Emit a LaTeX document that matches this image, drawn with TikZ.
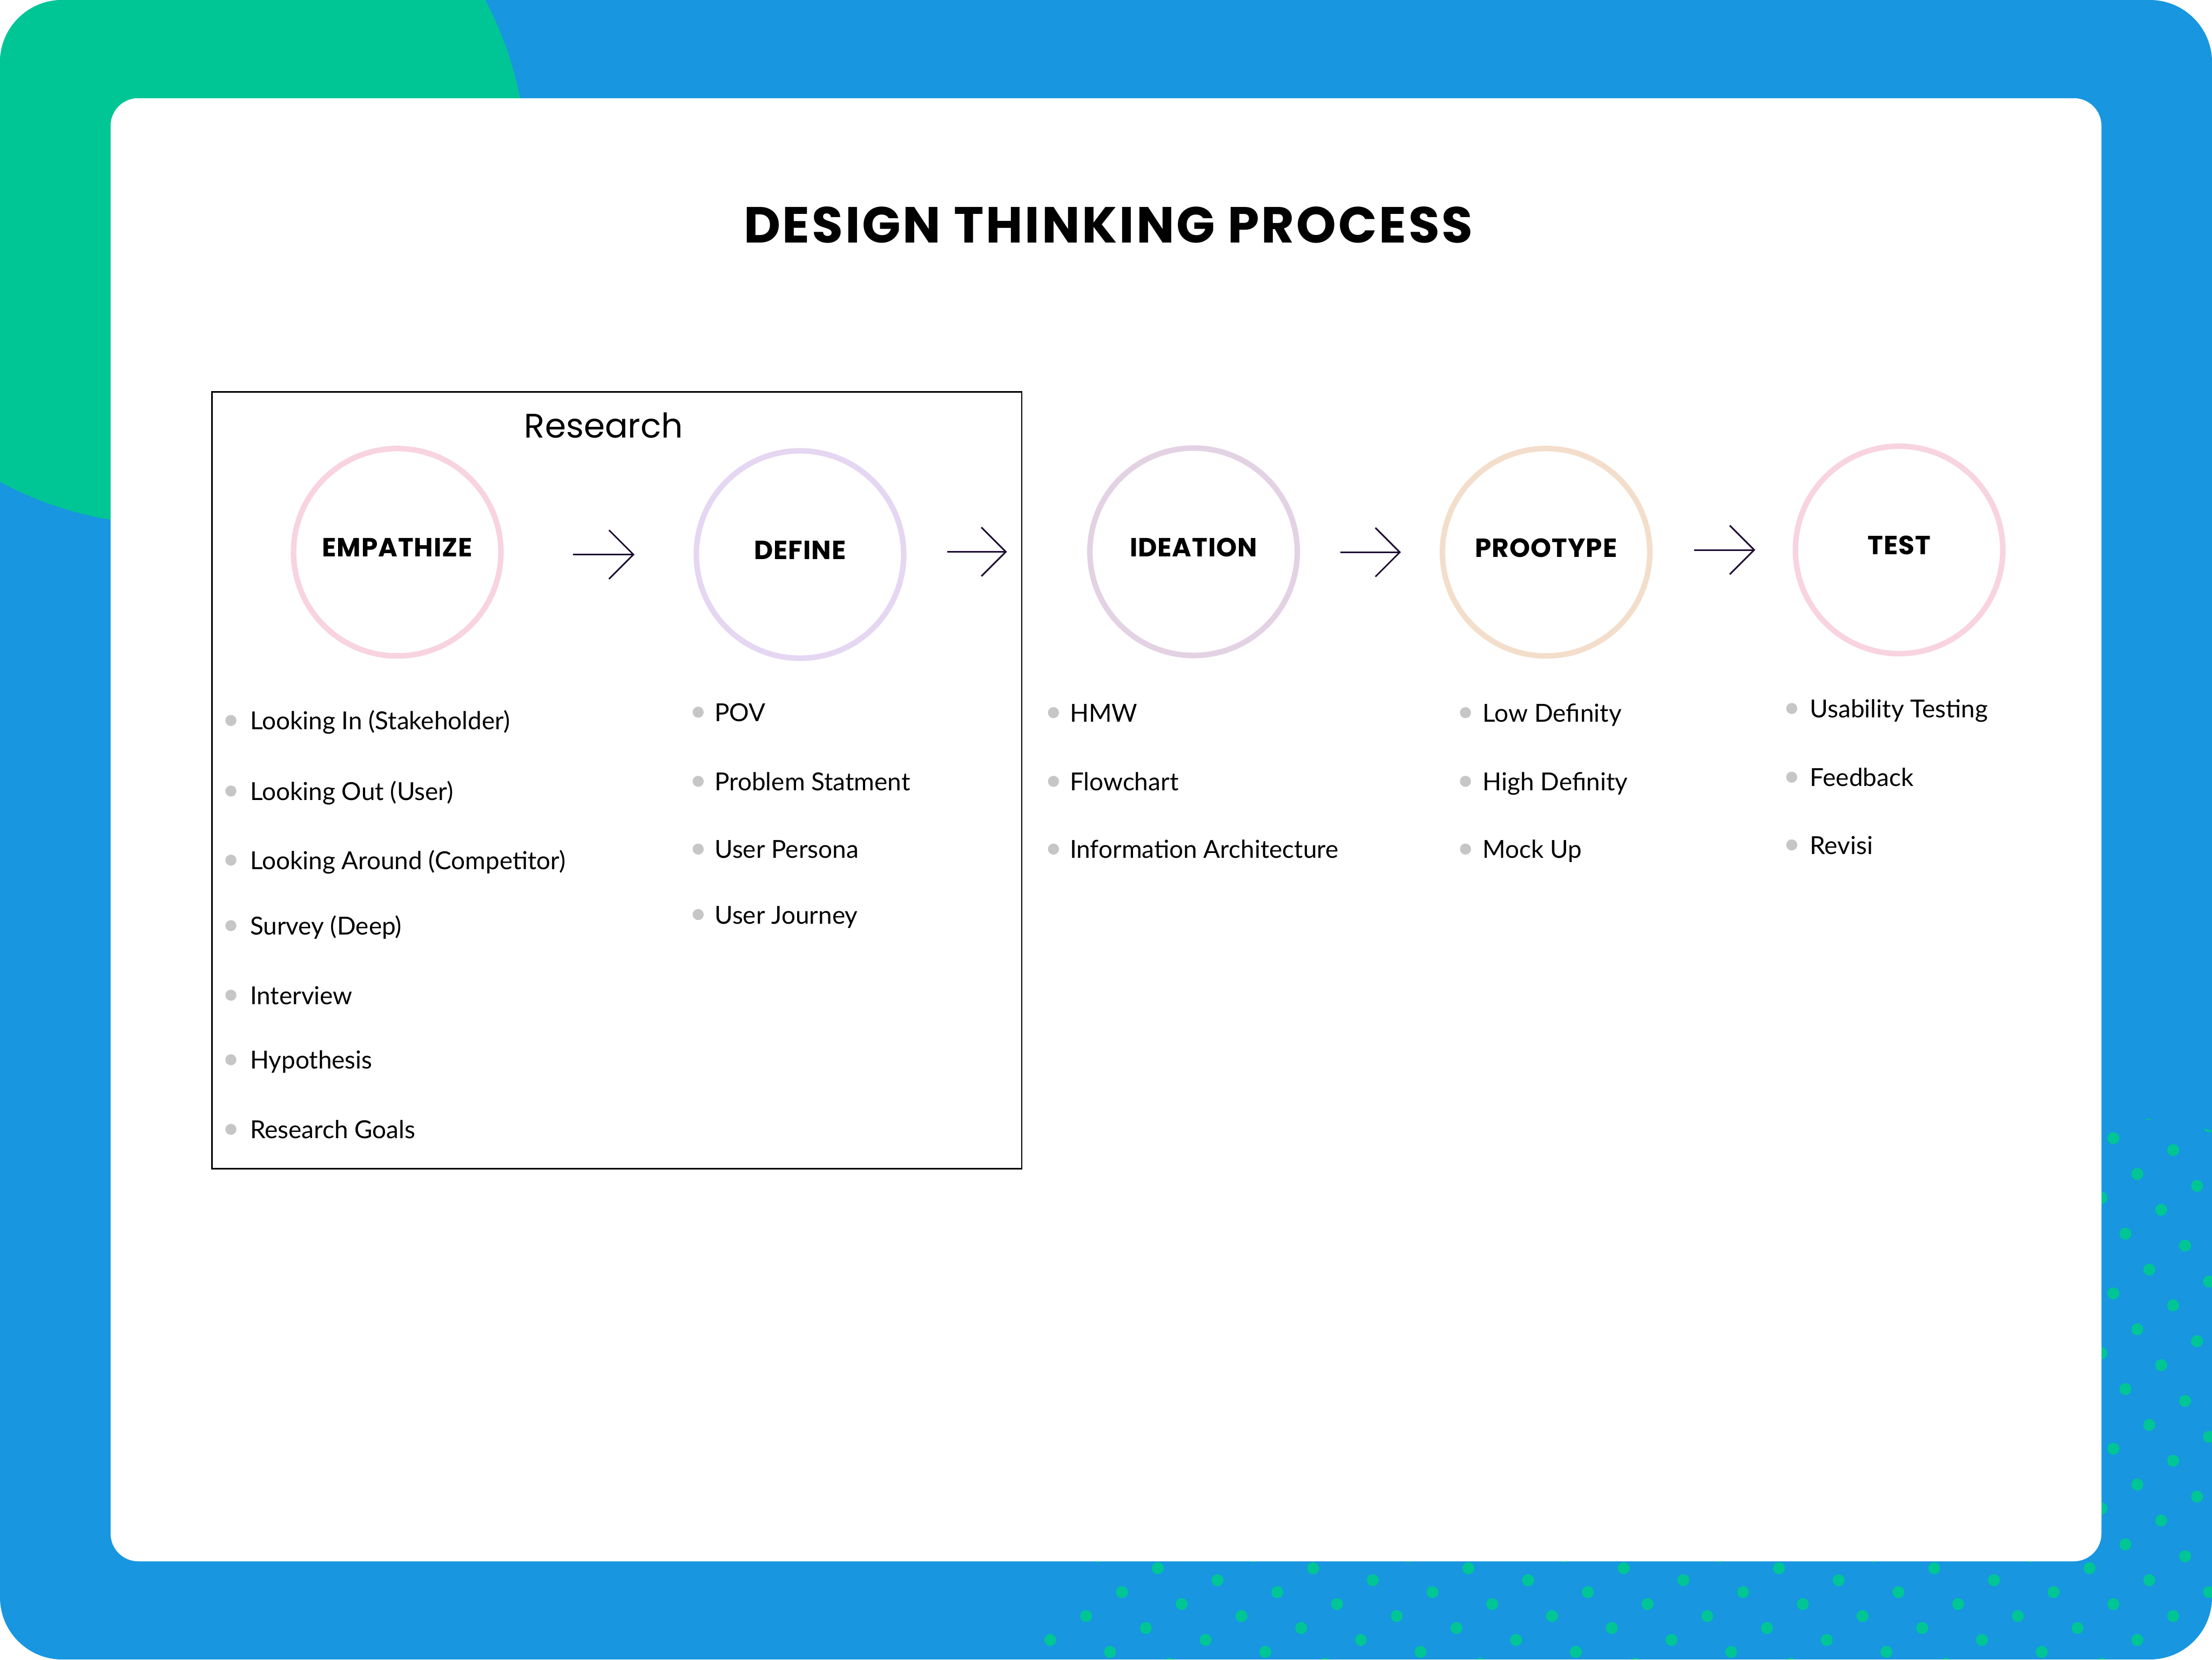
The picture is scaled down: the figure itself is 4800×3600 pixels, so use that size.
\documentclass[tikz,border=0pt]{standalone}
\usepackage{fontspec}
\setmainfont{Lato}
\newfontfamily\popfont{Poppins}
\usetikzlibrary{arrows.meta}
\definecolor{bgblue}{HTML}{1896E0}
\definecolor{bggreen}{HTML}{00C695}
\definecolor{ringpink}{HTML}{F8D3E0}
\definecolor{ringlilac}{HTML}{E5D6F2}
\definecolor{ringmauve}{HTML}{E3D2E3}
\definecolor{ringpeach}{HTML}{F3DECB}
\definecolor{bulletgray}{HTML}{C6C6C6}
\definecolor{arrowink}{HTML}{1E0E33}
\begin{document}
\begin{tikzpicture}[x=0.1mm, y=-0.1mm,
    phase/.style={circle, draw=#1, line width=1.2mm, minimum size=45mm, inner sep=0pt,
      text depth=2mm, font=\popfont\bfseries\fontsize{16.2}{18}\selectfont\addfontfeatures{LetterSpace=2}},
    flow/.style={draw=arrowink, line width=0.35mm, -{Straight Barb[length=5.3mm, width=10.6mm]}},
    item/.style={anchor=base west, inner sep=0pt, font=\fontsize{15.3}{18}\selectfont}]
  \useasboundingbox (0,0) rectangle (4800,3600);
  \fill[white] (0,0) rectangle (4800,3600);
  % background with blob and dots
  \begin{scope}
    \clip[rounded corners=13.5mm] (0,0) rectangle (4800,3600);
    \fill[bgblue] (0,0) rectangle (4800,3600);
    \fill[bggreen] (368,363) circle[radius=77.5mm];
    \begin{scope}
      \clip (4300,4800) circle[radius=240mm];
      \foreach \c in {-92,...,9}
        \foreach \t in {-1,...,3}
          \fill[bggreen] ({4586+25.92*\c},{2469+25.92*(Mod(8*\c,13)+13*\t)}) circle[radius=1.3mm];
    \end{scope}
  \end{scope}
  \fill[white, rounded corners=6mm] (240,213) rectangle (4560,3387);

  \node[font=\popfont\bfseries\fontsize{31.3}{36}\selectfont\addfontfeatures{LetterSpace=4}, anchor=base] (title) at (2405,527) {DESIGN THINKING PROCESS};

  % research frame
  \draw[line width=0.3mm] (460,850) rectangle (2217,2535);
  \node[font=\popfont\fontsize{21}{24}\selectfont, anchor=base] (research) at (1310,950) {Research};

  % phases
  \node[phase=ringpink] (emp) at (862,1198) {EMPATHIZE};
  \node[phase=ringlilac] (def) at (1736,1203) {DEFINE};
  \node[phase=ringmauve] (idea) at (2590,1197) {IDEATION};
  \node[phase=ringpeach] (proto) at (3355,1198) {PROOTYPE};
  \node[phase=ringpink] (test) at (4121,1193) {TEST};

  \draw[flow, shorten <=15mm, shorten >=12.8mm] (emp.east |- def.west) -- (def.west);
  \draw[flow, shorten <=8.8mm, shorten >=17.4mm] (def.east |- idea.west) -- (idea.west);
  \draw[flow, shorten <=8.7mm, shorten >=8.4mm] (idea.east |- proto.west) -- (proto.west);
  \draw[flow, shorten <=9mm, shorten >=8.1mm] (proto.east |- test.west) -- (test.west);

  % lists
  \foreach \y/\txt [count=\k] in {1563/{Looking In (Stakeholder)}, 1716/{Looking Out (User)},
      1866/{Looking Around (Competitor)}, 2008/{Survey (Deep)}, 2159/Interview,
      2299/Hypothesis, 2450/{Research Goals}}
  {
    \fill[bulletgray] (501,\y) circle[radius=1.2mm];
    \node[item] (emp-\k) at (542,\y+20) {\txt};
  }
  \foreach \y/\txt [count=\k] in {1545/POV, 1695/{Problem Statment}, 1842/{User Persona}, 1984/{User Journey}}
  {
    \fill[bulletgray] (1515,\y) circle[radius=1.2mm];
    \node[item] (def-\k) at (1550,\y+20) {\txt};
  }
  \foreach \y/\txt [count=\k] in {1546/HMW, 1695/Flowchart, 1842/{Information Architecture}}
  {
    \fill[bulletgray] (2286,\y) circle[radius=1.2mm];
    \node[item] (idea-\k) at (2321,\y+20) {\txt};
  }
  \foreach \y/\txt [count=\k] in {1546/{Low Definity}, 1695/{High Definity}, 1842/{Mock Up}}
  {
    \fill[bulletgray] (3180,\y) circle[radius=1.2mm];
    \node[item] (proto-\k) at (3217,\y+20) {\txt};
  }
  \foreach \y/\txt [count=\k] in {1537/{Usability Testing}, 1686/Feedback, 1833/Revisi}
  {
    \fill[bulletgray] (3888,\y) circle[radius=1.2mm];
    \node[item] (test-\k) at (3927,\y+20) {\txt};
  }
\end{tikzpicture}
\end{document}
